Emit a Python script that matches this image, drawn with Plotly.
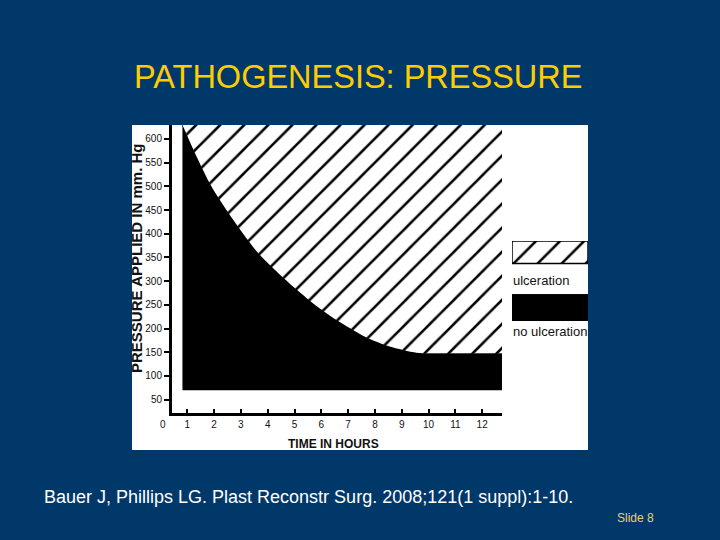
import plotly.graph_objects as go

# ---- data ----
hours = [0.82, 1.29, 1.91, 2.72, 3.65, 4.96, 5.70, 6.57, 7.63, 8.56, 9.56, 10.5, 11.5, 12.74]
pressure = [630, 570, 499, 429, 359, 288, 253, 218, 183, 162, 149, 148, 148, 148]
base_pressure = 70
top_pressure = 640
x_ticks = list(range(1, 13))
y_ticks = list(range(50, 601, 50))

BG = "#00386A"
W, H = 720, 540


def px(x):
    return x / W


def py(y):
    return 1 - y / H


hatch = dict(shape="/", fgcolor="#000000", fgopacity=1, bgcolor="#ffffff", size=17, solidity=0.15)

fig = go.Figure()
# black "no ulceration" region
fig.add_trace(go.Scatter(x=hours, y=[base_pressure] * len(hours), mode="lines",
                         line=dict(width=0, color="black"), hoverinfo="skip", showlegend=False))
fig.add_trace(go.Scatter(x=hours, y=pressure, mode="lines", fill="tonexty", fillcolor="black",
                         line=dict(width=1, color="black", shape="spline", smoothing=0.7), showlegend=False))
# hatched "ulceration" region
fig.add_trace(go.Scatter(x=hours, y=pressure, mode="lines",
                         line=dict(width=0, color="black", shape="spline", smoothing=0.7),
                         hoverinfo="skip", showlegend=False))
fig.add_trace(go.Scatter(x=hours, y=[top_pressure] * len(hours), mode="lines", fill="tonexty",
                         fillcolor="#ffffff", fillpattern=hatch, opacity=1,
                         line=dict(width=0, color="white"), hoverinfo="skip", showlegend=False))

# legend swatches on a separate small axis
fig.add_trace(go.Scatter(x=[0, 1, 1, 0, 0], y=[0.72, 0.72, 1, 1, 0.72], mode="lines", fill="toself",
                         fillcolor="#ffffff", fillpattern=hatch, line=dict(width=1.5, color="black"),
                         xaxis="x2", yaxis="y2", hoverinfo="skip", showlegend=False))
fig.add_trace(go.Scatter(x=[0, 1, 1, 0, 0], y=[0, 0, 0.33, 0.33, 0], mode="lines", fill="toself",
                         fillcolor="black", line=dict(width=1, color="black"),
                         xaxis="x2", yaxis="y2", hoverinfo="skip", showlegend=False))

tick_font = dict(family="Liberation Sans Narrow, Arial Narrow, Liberation Sans, Arial", size=10, color="#111")

fig.update_layout(
    width=W, height=H,
    margin=dict(l=0, r=0, t=0, b=0),
    paper_bgcolor=BG, plot_bgcolor="white",
    xaxis=dict(domain=[px(172), px(502)], range=[0.43, 12.74], tickvals=x_ticks,
               ticks="inside", ticklen=4, tickwidth=2, tickcolor="black",
               showline=True, linewidth=3, linecolor="black", showgrid=False, zeroline=False,
               tickfont=tick_font),
    yaxis=dict(domain=[py(413), py(125)], range=[21.9, 629.5], tickvals=y_ticks,
               ticks="outside", ticklen=5, tickwidth=2, tickcolor="black",
               showline=True, linewidth=3, linecolor="black", showgrid=False, zeroline=False,
               tickfont=tick_font),
    xaxis2=dict(domain=[px(512), px(588)], range=[0, 1], visible=False, anchor="y2"),
    yaxis2=dict(domain=[py(321), py(241)], range=[0, 1], visible=False, anchor="x2"),
    shapes=[dict(type="rect", xref="paper", yref="paper", x0=px(132), x1=px(588),
                 y0=py(450), y1=py(125), fillcolor="white", line=dict(width=0), layer="below")],
)

ann = [
    dict(text="PATHOGENESIS: PRESSURE", x=px(358), y=py(77),
         font=dict(family="Liberation Sans, Arial", size=32.5, color="#FFCC00")),
    dict(text="<b>PRESSURE APPLIED IN mm. Hg</b>", x=px(136), y=py(259), textangle=-90,
         font=dict(family="Liberation Sans, Arial", size=15, color="#111")),
    dict(text="<b>TIME IN HOURS</b>", x=px(333), y=py(444),
         font=dict(family="Liberation Sans, Arial", size=12, color="#111")),
    dict(text="0", x=px(163), y=py(424), font=tick_font),
    dict(text="ulceration", x=px(511), y=py(280), xanchor="left",
         font=dict(family="Liberation Sans, Arial", size=13, color="#111")),
    dict(text="no ulceration", x=px(511), y=py(331), xanchor="left",
         font=dict(family="Liberation Sans, Arial", size=13, color="#111")),
    dict(text="Bauer J, Phillips LG. Plast Reconstr Surg. 2008;121(1 suppl):1-10.", x=px(308), y=py(497),
         font=dict(family="Liberation Sans, Arial", size=18, color="white")),
    dict(text="Slide 8", x=px(635), y=py(518),
         font=dict(family="Liberation Sans, Arial", size=12, color="#E6D36A")),
]
for a in ann:
    a.setdefault("xanchor", "center")
    fig.add_annotation(xref="paper", yref="paper", showarrow=False, yanchor="middle", **a)

fig.write_html("out.html")
